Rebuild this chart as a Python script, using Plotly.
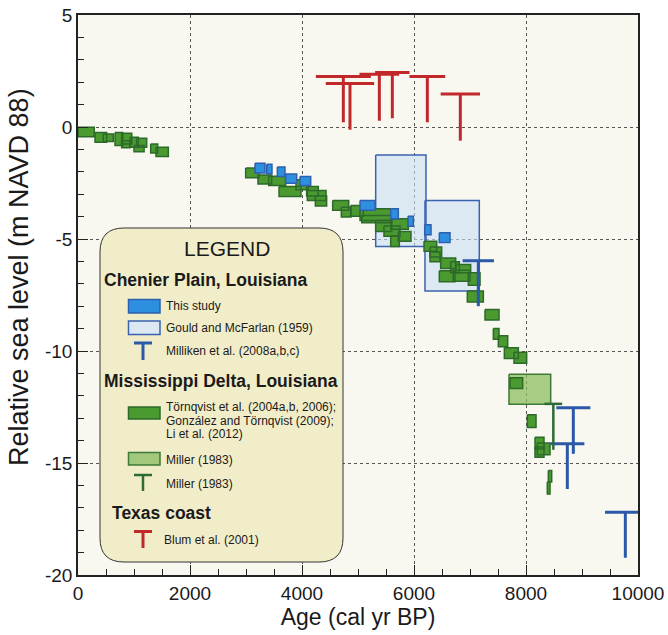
import plotly.graph_objects as go

# ---------------- data ----------------
# Törnqvist et al. / González & Törnqvist / Li et al. (Mississippi Delta) : age range, RSL range
torn_age_lo = [0, 304, 452, 661, 780, 780, 930, 1000, 1048, 1298, 1393,
               2994, 3214, 3405, 3590, 3893, 4083, 4095, 4238,
               4548, 4702, 4869, 5036, 5066, 5316, 5589, 5464, 5720, 5584,
               6179, 6286, 6286, 6476, 6655, 6750, 6452, 6702, 6970, 6952, 7268,
               7417, 7506, 7613, 7786, 7714, 8024, 8161, 8202, 8161, 8399, 8380]
torn_age_hi = [290, 512, 630, 798, 960, 930, 1077, 1180, 1227, 1423, 1613,
               3232, 3458, 3708, 3982, 4113, 4291, 4429, 4440,
               4834, 4875, 5095, 5601, 5601, 5601, 5899, 5750, 5946, 5738,
               6405, 6494, 6464, 6744, 6809, 7012, 6732, 7000, 7179, 7238, 7518,
               7518, 7673, 7863, 8012, 7940, 8179, 8321, 8429, 8321, 8459, 8429]
torn_rsl_hi = [-0.01, -0.24, -0.31, -0.24, -0.28, -0.61, -0.46, -0.83, -0.50, -0.76, -0.90,
               -1.83, -2.14, -2.20, -2.66, -2.36, -2.66, -2.84, -3.08,
               -3.28, -3.58, -3.50, -3.65, -3.95, -4.17, -4.10, -4.42, -4.66, -4.87,
               -5.10, -5.36, -5.58, -5.85, -6.02, -6.14, -6.42, -6.40, -6.51, -7.32, -8.15,
               -8.99, -9.32, -9.85, -10.06, -11.19, -12.85, -13.85, -14.11, -14.29, -15.33, -15.85]
torn_rsl_lo = [-0.43, -0.68, -0.65, -0.83, -0.76, -0.93, -0.90, -1.10, -0.90, -1.16, -1.32,
               -2.27, -2.54, -2.61, -3.10, -2.80, -3.08, -3.28, -3.53,
               -3.72, -4.02, -3.98, -4.17, -4.27, -4.66, -4.57, -4.88, -5.10, -5.33,
               -5.55, -5.80, -6.02, -6.32, -6.51, -6.51, -6.91, -6.89, -7.06, -7.81, -8.62,
               -9.47, -9.81, -10.33, -10.55, -11.67, -13.41, -14.38, -14.63, -14.74, -15.85, -16.38]

# This study (Chenier Plain)
study_age_lo = [3161, 3370, 3560, 3708, 3964, 5036, 5584, 5893, 6191, 6452]
study_age_hi = [3339, 3464, 3696, 3905, 4155, 5304, 5720, 5988, 6304, 6643]
study_rsl_hi = [-1.62, -1.66, -1.79, -2.10, -2.21, -3.28, -3.65, -3.98, -4.36, -4.72]
study_rsl_lo = [-2.05, -2.09, -2.21, -2.51, -2.61, -3.72, -4.10, -4.43, -4.81, -5.16]

# Gould and McFarlan (1959)
gould_age_lo = [5316, 6196]
gould_age_hi = [6214, 7166]
gould_rsl_hi = [-1.25, -3.28]
gould_rsl_lo = [-5.33, -7.32]

# Miller (1983) box
miller_box_age_lo = [7696]
miller_box_age_hi = [8441]
miller_box_rsl_hi = [-11.04]
miller_box_rsl_lo = [-12.38]

# Limiting dates (T symbols): age, age half-range, top RSL, bottom of stem
milliken_age = [7148, 8845, 8738, 9774]
milliken_err = [280, 304, 304, 363]
milliken_top = [-5.97, -12.53, -14.14, -17.20]
milliken_bot = [-8.00, -14.59, -16.16, -19.23]

miller_t_age = [8488]
miller_t_err = [158]
miller_t_top = [-12.36]
miller_t_bot = [-14.41]

blum_age = [4738, 4857, 5381, 5613, 6238, 6827]
blum_err = [491, 432, 354, 307, 319, 351]
blum_top = [2.26, 1.94, 2.36, 2.43, 2.26, 1.47]
blum_bot = [0.21, -0.12, 0.28, 0.39, 0.21, -0.61]

x_ticks = [0, 2000, 4000, 6000, 8000, 10000]
y_ticks = [-20, -15, -10, -5, 0, 5]

# ---------------- helpers ----------------
def rect_trace(lo, hi, top, bot, fill, line, width=1.5):
    xs, ys = [], []
    for a, b, t, u in zip(lo, hi, top, bot):
        xs += [a, b, b, a, a, None]
        ys += [t, t, u, u, t, None]
    return go.Scatter(x=xs, y=ys, mode="lines", fill="toself", fillcolor=fill,
                      line=dict(color=line, width=width), hoverinfo="skip", showlegend=False)

def t_trace(age, err, top, bot, color, width=3):
    xs, ys = [], []
    for a, e, t, u in zip(age, err, top, bot):
        xs += [a - e, a + e, None, a, a, None]
        ys += [t, t, None, t, u, None]
    return go.Scatter(x=xs, y=ys, mode="lines", line=dict(color=color, width=width),
                      hoverinfo="skip", showlegend=False)

GREEN_F, GREEN_L = "#4a9a2f", "#2d6a2a"
BLUE_F, BLUE_L = "#2d8fe0", "#2f5fae"
GOULD_F, GOULD_L = "rgba(203,223,243,0.6)", "#3a62b0"
MILLER_F, MILLER_L = "rgba(140,190,95,0.75)", "#3d7a35"
RED = "#c0282a"
BLUET = "#2b59a8"
GREENT = "#2f6b35"

fig = go.Figure()
fig.add_trace(rect_trace(gould_age_lo, gould_age_hi, gould_rsl_hi, gould_rsl_lo, GOULD_F, GOULD_L, 1.5))
fig.add_trace(rect_trace(miller_box_age_lo, miller_box_age_hi, miller_box_rsl_hi, miller_box_rsl_lo, MILLER_F, MILLER_L, 1.5))
fig.add_trace(rect_trace(torn_age_lo, torn_age_hi, torn_rsl_hi, torn_rsl_lo, GREEN_F, GREEN_L, 1.5))
fig.add_trace(rect_trace(study_age_lo, study_age_hi, study_rsl_hi, study_rsl_lo, BLUE_F, BLUE_L, 1.5))
fig.add_trace(t_trace(blum_age, blum_err, blum_top, blum_bot, RED, 3))
fig.add_trace(t_trace(milliken_age, milliken_err, milliken_top, milliken_bot, BLUET, 3))
fig.add_trace(t_trace(miller_t_age, miller_t_err, miller_t_top, miller_t_bot, GREENT, 2.5))

# ---------------- legend box (paper coords) ----------------
L, R, T, B = 78, 638, 15, 575
def px(x):
    return (x - L) / (R - L)
def py(y):
    return (B - y) / (B - T)

x0, x1, y0, y1, r = px(100), px(343), py(228), py(562), 24 / (R - L)
path = (f"M {x0+r},{y0} L {x1-r},{y0} Q {x1},{y0} {x1},{y0-r} "
        f"L {x1},{y1+r} Q {x1},{y1} {x1-r},{y1} L {x0+r},{y1} Q {x0},{y1} {x0},{y1+r} "
        f"L {x0},{y0-r} Q {x0},{y0} {x0+r},{y0} Z")
shapes = [dict(type="path", path=path, xref="paper", yref="paper",
               fillcolor="#f2edc9", line=dict(color="#333333", width=1), layer="above")]

def icon_rect(ytop, ybot, fill, line):
    shapes.append(dict(type="rect", xref="paper", yref="paper", x0=px(128.5), x1=px(160),
                       y0=py(ytop), y1=py(ybot), fillcolor=fill, line=dict(color=line, width=1.5),
                       layer="above"))

def icon_t(ytop, ybot, color, w=3):
    shapes.append(dict(type="line", xref="paper", yref="paper", x0=px(134), x1=px(152),
                       y0=py(ytop), y1=py(ytop), line=dict(color=color, width=w), layer="above"))
    shapes.append(dict(type="line", xref="paper", yref="paper", x0=px(143), x1=px(143),
                       y0=py(ytop), y1=py(ybot), line=dict(color=color, width=w), layer="above"))

icon_rect(299.5, 313, BLUE_F, BLUE_L)
icon_rect(321, 334.5, "#dce9f3", GOULD_L)
icon_t(343, 360, BLUET)
icon_rect(407, 419, GREEN_F, GREEN_L)
icon_rect(452.5, 465, "#a2c87e", MILLER_L)
icon_t(475, 491, GREENT, 2.5)
icon_t(531.5, 548, RED)

FONT = "Liberation Sans, Arial, Helvetica, sans-serif"
ann = []
def text(x, y, s, size=12, bold=False, xanchor="left", angle=0):
    ann.append(dict(x=px(x), y=py(y), xref="paper", yref="paper", text=(f"<b>{s}</b>" if bold else s),
                    showarrow=False, xanchor=xanchor, yanchor="middle", textangle=angle,
                    font=dict(family=FONT, size=size, color="#1a1a1a")))

text(227, 248.5, "LEGEND", 21, xanchor="center")
text(102, 279.5, "Chenier Plain, Louisiana", 17.5, bold=True)
text(164, 306, "This study", 12)
text(164, 328, "Gould and McFarlan (1959)", 12)
text(164, 351, "Milliken et al. (2008a,b,c)", 12)
text(102, 381, "Mississippi Delta, Louisiana", 17.5, bold=True)
text(164, 407, "Törnqvist et al. (2004a,b, 2006);", 12)
text(164, 420.5, "González and Törnqvist (2009);", 12)
text(164, 434, "Li et al. (2012)", 12)
text(164, 460, "Miller (1983)", 12)
text(164, 484, "Miller (1983)", 12)
text(110, 513, "Texas coast", 17.5, bold=True)
text(162, 540, "Blum et al. (2001)", 12)
# y-axis title
text(19, 277, "Relative sea level (m NAVD 88)", 27, xanchor="center", angle=-90)

axis_common = dict(showline=True, linecolor="#222222", linewidth=1.5, mirror=True,
                   ticks="inside", ticklen=10, tickwidth=1, tickcolor="#222222",
                   showgrid=True, gridcolor="#555555", gridwidth=1, griddash="dot",
                   zeroline=False, automargin=False,
                   tickfont=dict(family=FONT, size=19, color="#1a1a1a"),
                   title_font=dict(family=FONT, size=23, color="#1a1a1a"))

fig.update_layout(
    width=668, height=635,
    margin=dict(l=78, r=30, t=15, b=60, autoexpand=False),
    paper_bgcolor="white", plot_bgcolor="#f8f8f1",
    showlegend=False,
    shapes=shapes, annotations=ann,
    xaxis=dict(range=[0, 10000], tickmode="array", tickvals=x_ticks,
               ticktext=[str(v) for v in x_ticks],
               minor=dict(dtick=500, tick0=0, ticklen=6, ticks="inside", tickcolor="#222222", showgrid=False),
               title=dict(text="Age (cal yr BP)", standoff=4), **axis_common),
    yaxis=dict(range=[-20, 5], tickmode="array", tickvals=y_ticks,
               ticktext=[str(v) for v in y_ticks],
               minor=dict(dtick=1, tick0=0, ticklen=6, ticks="inside", tickcolor="#222222", showgrid=False),
               **axis_common),
)

fig.write_html("out.html", config={"displayModeBar": False},
               post_script="document.body.style.margin='0';document.body.style.overflow='hidden';")
